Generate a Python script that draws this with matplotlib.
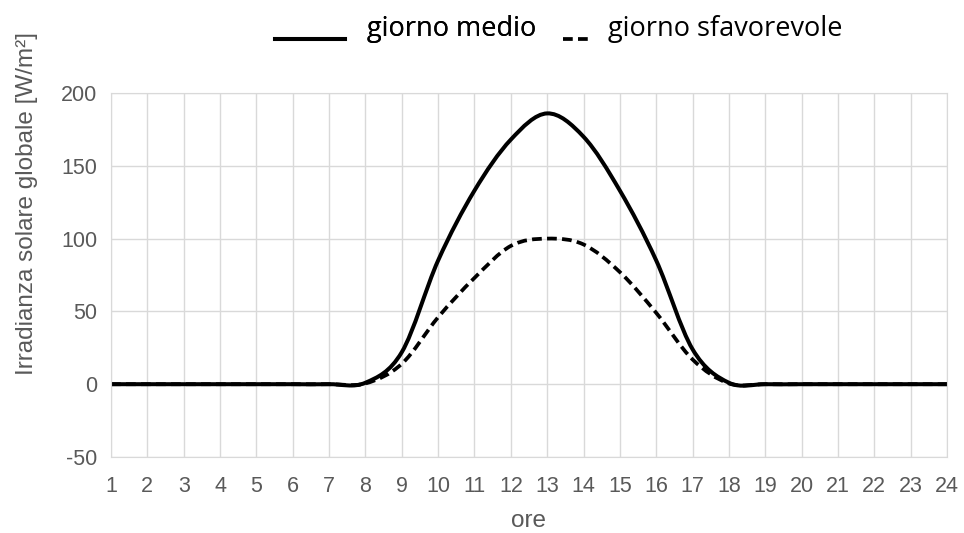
import numpy as np
import matplotlib
matplotlib.use('Agg')
import matplotlib.pyplot as plt
from matplotlib.path import Path
from matplotlib.patches import PathPatch
from matplotlib.lines import Line2D
from matplotlib.legend_handler import HandlerLine2D

plt.rcParams['axes.unicode_minus'] = False

# hourly irradiance [W/m2]
ore = list(range(1, 25))
giorno_medio = [0, 0, 0, 0, 0, 0, 0, 1, 22, 85, 133, 168, 186, 170, 133, 85, 24, 1,
                0, 0, 0, 0, 0, 0]
giorno_sfav = [0, 0, 0, 0, 0, 0, 0, 0.5, 14, 46, 73, 95, 100, 96, 77, 49, 17, 0.5,
               0, 0, 0, 0, 0, 0]

y_ticks = [-50, 0, 50, 100, 150, 200]

GRAY = '#595959'
GRID = '#d9d9d9'
LW = 2.9
DASH = (0, (2.6, 1.4))


def smooth_path(x, y):
    """Excel-like smoothed line: cubic bezier through each point."""
    pts = np.column_stack([x, y]).astype(float)
    n = len(pts)
    verts = [pts[0]]
    codes = [Path.MOVETO]
    for i in range(n - 1):
        p0 = pts[i - 1] if i > 0 else pts[i]
        p1, p2 = pts[i], pts[i + 1]
        p3 = pts[i + 2] if i + 2 < n else pts[i + 1]
        c1 = p1 + (p2 - p0) / 6.0
        c2 = p2 - (p3 - p1) / 6.0
        verts += [c1, c2, p2]
        codes += [Path.CURVE4] * 3
    return Path(verts, codes)


class LowLine(HandlerLine2D):
    # legend key sits a bit below the label, as in the original
    def create_artists(self, legend, orig_handle, xdescent, ydescent,
                       width, height, fontsize, trans):
        arts = super().create_artists(legend, orig_handle, xdescent, ydescent,
                                      width, height, fontsize, trans)
        for a in arts:
            a.set_ydata(np.asarray(a.get_ydata()) - 0.45 * fontsize)
        return arts


fig = plt.figure(figsize=(9.64, 5.33), dpi=100)
ax = fig.add_axes([0.11515, 0.14259, 0.8672, 0.6829])

ax.add_patch(PathPatch(smooth_path(ore, giorno_medio), fill=False,
                       edgecolor='black', linewidth=LW, capstyle='round'))
ax.add_patch(PathPatch(smooth_path(ore, giorno_sfav), fill=False,
                       edgecolor='black', linewidth=LW - 0.2, linestyle=DASH))

ax.set_xlim(1, 24)
ax.set_ylim(-50, 200)
ax.set_xticks(ore)
ax.set_yticks(y_ticks)
ax.grid(True, color=GRID, linewidth=1)
ax.set_axisbelow(True)
for s in ax.spines.values():
    s.set_color(GRID)
ax.tick_params(length=0, labelsize=15.5, labelcolor=GRAY)
ax.tick_params(axis='x', pad=14)
ax.tick_params(axis='y', pad=10)
for lab in ax.get_xticklabels() + ax.get_yticklabels():
    lab.set_fontfamily('Liberation Sans')

fig.text(0.548, 0.012, 'ore', ha='center', va='baseline', fontsize=17.5,
         color=GRAY, family='Liberation Sans')
fig.text(0.028, 0.619, 'Irradianza solare globale [W/m²]', ha='center',
         va='center', rotation=90, fontsize=17.5, color=GRAY, family='Liberation Sans')

lprop = {'family': 'Open Sans', 'size': 19.5}
leg1 = fig.legend([Line2D([], [], color='black', linewidth=LW)], ['giorno medio'],
                  loc='center left', bbox_to_anchor=(0.2853, 0.945), frameon=False,
                  prop=lprop, handlelength=2.6, handletextpad=0.8,
                  borderpad=0, borderaxespad=0, handler_map={Line2D: LowLine()})
fig.add_artist(leg1)
fig.legend([Line2D([], [], color='black', linewidth=LW - 0.2, linestyle=DASH)],
           ['giorno sfavorevole'], loc='center left',
           bbox_to_anchor=(0.584, 0.945), frameon=False, prop=lprop,
           handlelength=1.05, handletextpad=0.62, borderpad=0, borderaxespad=0,
           handler_map={Line2D: LowLine()})

fig.savefig('out.png', dpi=100)
